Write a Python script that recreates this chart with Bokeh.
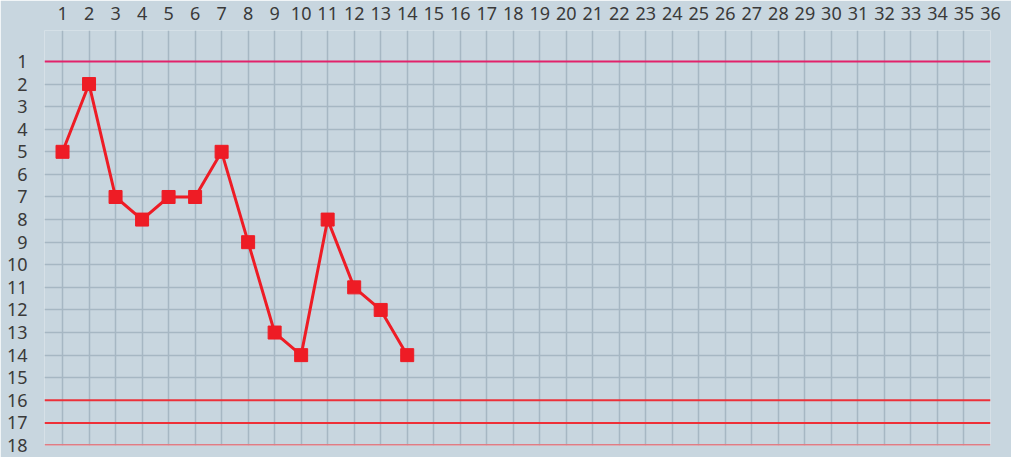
from bokeh.plotting import figure
from bokeh.models import Range1d, FixedTicker, Span
from bokeh.embed import file_html
from bokeh.resources import INLINE

# Data
rounds = list(range(1, 15))
positions = [5, 2, 7, 8, 7, 7, 5, 9, 13, 14, 8, 11, 12, 14]
x_ticks = list(range(1, 37))
y_ticks = list(range(1, 19))
zone_lines = [1, 16, 17, 18]
zone_colors = ["#e2226a", "#ec3039", "#ee3038", "#e07c84"]
zone_widths = [2, 2, 2, 3]

BG = "#c8d6df"
GRID = "#a6b7c3"
TXT = "#3a3a3a"
FONT = "Noto Sans"

p = figure(width=1011, height=457, output_backend="svg", toolbar_location=None,
           x_axis_location="above",
           x_range=Range1d(0.32, 36), y_range=Range1d(18, -0.37),
           min_border_left=44, min_border_right=21, min_border_top=30, min_border_bottom=12)
p.background_fill_color = BG
p.border_fill_color = BG
p.outline_line_color = None

for ax in (p.xaxis[0], p.yaxis[0]):
    ax.axis_line_color = None
    ax.major_tick_line_color = None
    ax.minor_tick_line_color = None
    ax.major_tick_out = 0
    ax.major_tick_in = 0
    ax.major_label_text_font = FONT
    ax.major_label_text_font_size = "18px"
    ax.major_label_text_color = TXT

p.xaxis.ticker = FixedTicker(ticks=x_ticks)
p.yaxis.ticker = FixedTicker(ticks=y_ticks)
p.xaxis.major_label_standoff = 11
p.yaxis.major_label_standoff = 17

p.xgrid.ticker = FixedTicker(ticks=x_ticks)
p.ygrid.ticker = FixedTicker(ticks=[t for t in y_ticks if t not in zone_lines])
p.xgrid.grid_line_color = GRID
p.ygrid.grid_line_color = GRID
p.xgrid.grid_line_width = 1.5
p.ygrid.grid_line_width = 1.5

for loc, col, w in zip(zone_lines, zone_colors, zone_widths):
    p.add_layout(Span(location=loc, dimension="width", line_color=col, line_width=w))

p.line(rounds, positions, line_color="#ee1c25", line_width=3)
p.scatter(rounds, positions, marker="square", size=13, fill_color="#ee1c25", line_color="#ee1c25")

html = file_html(p, INLINE)
html = html.replace("<body>", '<body style="margin:0;background:%s;overflow:hidden">' % BG, 1)
open("out.html", "w").write(html)
